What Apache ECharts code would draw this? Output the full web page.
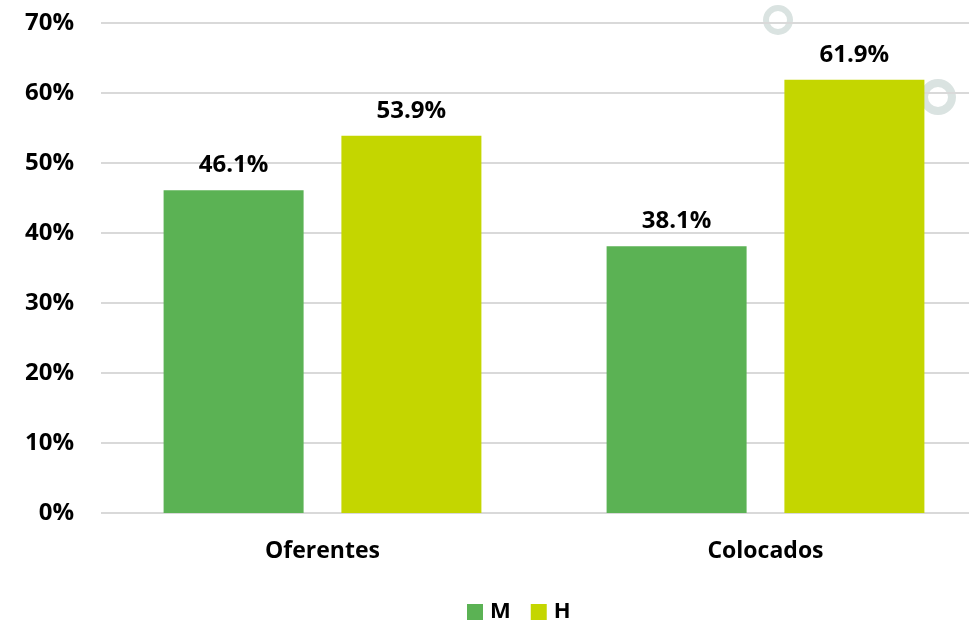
<!DOCTYPE html>
<html><head><meta charset="utf-8">
<script src="https://cdn.jsdelivr.net/npm/echarts@6/dist/echarts.min.js"></script>
<style>html,body{margin:0;padding:0;background:#fff}#c{width:969px;height:621px}</style>
</head><body><div id="c"></div>
<script>
const categories = ['Oferentes', 'Colocados'];
const seriesM = [46.1, 38.1];
const seriesH = [53.9, 61.9];
const yTicks = [0, 10, 20, 30, 40, 50, 60, 70];
const FONT = 'Open Sans';
const catIdx = categories.map((c, i) => i);
const chart = echarts.init(document.getElementById('c'));
// plot area extends past the right edge of the canvas in the reference (band = 443px)
const gridLeft = 101, gridWidth = 868, band = 443;
const xMin = -0.5, xMax = -0.5 + gridWidth / band;
chart.setOption({
  animation: false,
  backgroundColor: '#ffffff',
  graphic: [
    {type: 'ring', shape: {cx: 778, cy: 20, r: 15, r0: 9}, style: {fill: '#dae3e1'}, z: 0},
    {type: 'ring', shape: {cx: 938, cy: 97, r: 18, r0: 10}, style: {fill: '#dae3e1'}, z: 0}
  ],
  grid: {left: gridLeft, top: 23, width: gridWidth, height: 490, containLabel: false},
  legend: {
    top: 596, left: 462, itemWidth: 16, itemHeight: 16, itemGap: 20,
    icon: 'rect',
    textStyle: {fontFamily: FONT, fontWeight: 'bold', fontSize: 22, color: '#000', padding: [0, 0, 0, 2]},
    data: ['M', 'H']
  },
  xAxis: {
    type: 'value', min: xMin, max: xMax,
    axisLine: {show: false}, axisTick: {show: false}, splitLine: {show: false},
    axisLabel: {customValues: catIdx, formatter: v => categories[Math.round(v)] || '', margin: 27, fontFamily: FONT, fontWeight: 'bold', fontSize: 23, color: '#000'}
  },
  yAxis: {
    type: 'value', min: yTicks[0], max: yTicks[yTicks.length - 1], interval: 10,
    axisLine: {show: false}, axisTick: {show: false},
    splitLine: {lineStyle: {color: '#d9d9d9', width: 2}},
    axisLabel: {margin: 27, fontFamily: FONT, fontWeight: 'bold', fontSize: 24, color: '#000', formatter: '{value}%'}
  },
  series: [
    {name: 'M', type: 'bar', data: seriesM.map((v, i) => [catIdx[i], v]), barWidth: 140, barGap: '27%', z: 3,
     itemStyle: {color: '#5bb254'},
     label: {show: true, position: 'top', distance: 13, formatter: p => p.value[1].toFixed(1) + '%', fontFamily: FONT, fontWeight: 'bold', fontSize: 24, color: '#000'}},
    {name: 'H', type: 'bar', data: seriesH.map((v, i) => [catIdx[i], v]), barWidth: 140, barGap: '27%', z: 3,
     itemStyle: {color: '#c4d600'},
     label: {show: true, position: 'top', distance: 13, formatter: p => p.value[1].toFixed(1) + '%', fontFamily: FONT, fontWeight: 'bold', fontSize: 24, color: '#000'}}
  ]
});
</script></body></html>
